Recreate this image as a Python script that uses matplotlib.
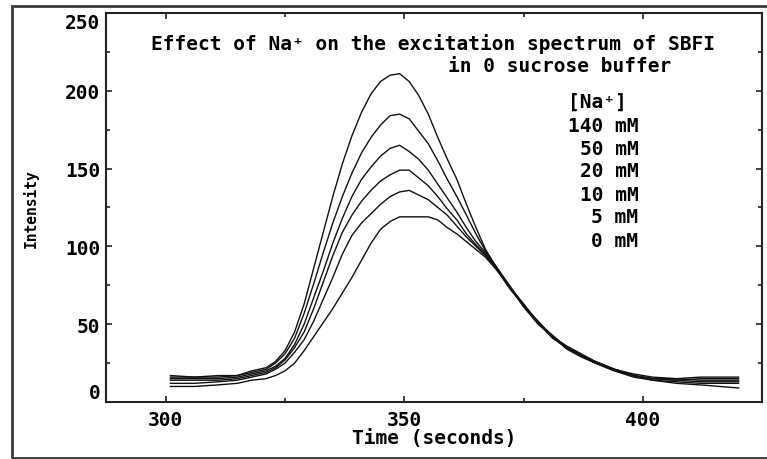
import matplotlib
matplotlib.use('Agg')
import matplotlib.pyplot as plt
from matplotlib.patches import Rectangle
from matplotlib.ticker import MultipleLocator

# Time axis shared by every trace (seconds)
time_s = [301, 306, 311, 315, 318, 321, 323, 325, 327, 329, 331, 333, 335, 337, 339,
          341, 343, 345, 347, 349, 351, 353, 355, 357, 359, 361, 363, 365, 367, 369,
          372, 375, 378, 381, 384, 387, 390, 394, 398, 402, 407, 412, 416, 420]

# Intensity traces, one per [Na+]
na_140 = [16, 16, 17, 17, 20, 22, 26, 33, 45, 63, 86, 109, 132, 153, 171,
          186, 198, 206, 210, 211, 206, 197, 185, 170, 156, 143, 127, 112, 98, 88,
          74, 62, 51, 42, 35, 30, 25, 21, 17, 15, 15, 16, 16, 16]
na_50 = [17, 16, 16, 17, 19, 21, 25, 31, 41, 57, 76, 96, 115, 132, 147,
         160, 170, 178, 184, 185, 182, 174, 166, 155, 143, 132, 120, 108, 97, 87,
         74, 63, 51, 43, 35, 30, 26, 21, 17, 15, 14, 15, 15, 15]
na_20 = [15, 15, 15, 16, 18, 20, 23, 28, 37, 50, 67, 84, 102, 118, 132,
         143, 151, 158, 163, 165, 161, 156, 149, 140, 131, 122, 112, 103, 96, 88,
         75, 62, 52, 42, 36, 31, 26, 21, 18, 16, 15, 14, 14, 14]
na_10 = [14, 14, 14, 15, 17, 19, 22, 27, 35, 45, 60, 77, 94, 109, 120,
         129, 136, 142, 146, 149, 149, 144, 139, 132, 124, 117, 108, 101, 95, 87,
         74, 62, 51, 42, 35, 30, 26, 21, 17, 15, 14, 13, 13, 13]
na_5 = [12, 12, 13, 14, 16, 18, 21, 25, 32, 40, 52, 66, 80, 95, 107,
        115, 121, 127, 132, 135, 136, 133, 130, 125, 120, 113, 106, 100, 94, 87,
        73, 62, 51, 41, 35, 30, 25, 20, 17, 14, 13, 12, 12, 12]
na_0 = [10, 10, 11, 12, 14, 15, 17, 20, 25, 33, 42, 51, 60, 70, 80,
        91, 102, 111, 116, 119, 119, 119, 119, 117, 112, 108, 103, 98, 93, 86,
        74, 61, 50, 42, 34, 29, 25, 20, 16, 14, 12, 11, 10, 9]

traces = [na_140, na_50, na_20, na_10, na_5, na_0]
conc_labels = ['140 mM', '50 mM', '20 mM', '10 mM', '5 mM', '0 mM']

mono = ['DejaVu Sans Mono', 'DejaVu Sans']
plt.rcParams['font.family'] = mono
plt.rcParams['font.weight'] = 'bold'
plt.rcParams['axes.labelweight'] = 'bold'

fig = plt.figure(figsize=(7.67, 4.60), dpi=100)
ax = fig.add_axes([0.1382, 0.1239, 0.8559, 0.8457])

for tr in traces:
    ax.plot(time_s, tr, color='#111111', linewidth=1.0)

ax.set_xlim(287.5, 425)
ax.set_ylim(0, 250)

ax.xaxis.set_major_locator(MultipleLocator(50))
ax.xaxis.set_minor_locator(MultipleLocator(25))
ax.yaxis.set_major_locator(MultipleLocator(50))
ax.yaxis.set_minor_locator(MultipleLocator(25))
ax.tick_params(which='both', direction='in', top=True, right=True,
               color='#222222', width=1.2)
ax.tick_params(which='major', length=4.5, labelsize=14)
ax.tick_params(axis='x', which='major', pad=6)
ax.tick_params(axis='y', which='major', pad=4)
ax.tick_params(which='minor', length=3)

# 250 and 0 labels sit inside the axis range, like the original
fig.canvas.draw()
for lab in ax.get_yticklabels():
    if lab.get_text() == '250':
        lab.set_va('top')
    elif lab.get_text() == '0':
        lab.set_va('bottom')

for sp in ax.spines.values():
    sp.set_linewidth(1.5)
    sp.set_color('#222222')

ax.set_xlabel('Time (seconds)', fontsize=14, fontweight='bold', labelpad=-1)
ax.set_ylabel('Intensity', fontsize=10.5, fontweight='bold', labelpad=19)

ax.text(356, 231, 'Effect of Na\u207a on the excitation spectrum of SBFI',
        fontsize=14, ha='center', va='center')
ax.text(382.6, 216, 'in 0 sucrose buffer', fontsize=14, ha='center', va='center')
ax.text(390.5, 193.6, '[Na\u207a]', fontsize=14, ha='center', va='center')
y_txt = [177.6, 162.8, 148.7, 133.3, 119.2, 103.8]
for lab, yy in zip(conc_labels, y_txt):
    ax.text(399, yy, lab, fontsize=14, ha='right', va='center')

# outer frame around the whole plot
fig.patches.append(Rectangle((12 / 767, 1 / 460), 1.2, 452 / 460,
                             transform=fig.transFigure, fill=False,
                             edgecolor='#3a3a3a', linewidth=2))

fig.savefig('out.png', dpi=100)
